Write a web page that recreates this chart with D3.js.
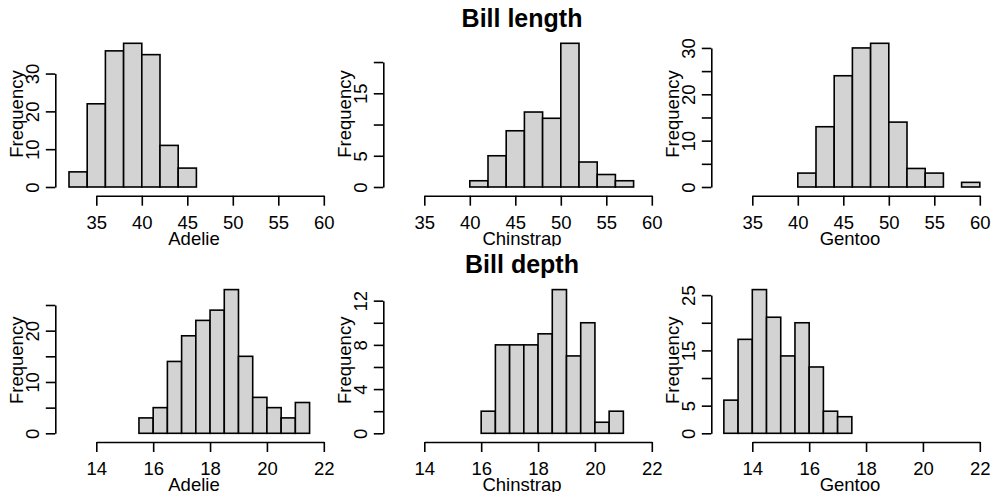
<!DOCTYPE html>
<html>
<head>
<meta charset="utf-8">
<script src="https://cdn.jsdelivr.net/npm/d3@7"></script>
<style>
  body { margin: 0; background: #fff; }
  svg { display: block; font-family: "Liberation Sans", Arial, Helvetica, sans-serif; }
</style>
</head>
<body>
<svg id="chart" width="992" height="492"></svg>
<script>
// penguin histograms, counts
const species = ["Adelie", "Chinstrap", "Gentoo"];
const rowTitles = ["Bill length", "Bill depth"];

// bill length, bins of 2 mm
const adelieLengthBreaks = [32, 34, 36, 38, 40, 42, 44, 46];
const adelieLength = [4, 22, 36, 38, 35, 11, 5];
const chinstrapLengthBreaks = [40, 42, 44, 46, 48, 50, 52, 54, 56, 58];
const chinstrapLength = [1, 5, 9, 12, 11, 23, 4, 2, 1];
const gentooLengthBreaks = [40, 42, 44, 46, 48, 50, 52, 54, 56, 58, 60];
const gentooLength = [3, 13, 24, 30, 31, 14, 4, 3, 0, 1];

// bill depth, bins of 0.5 mm
const adelieDepthBreaks = [15.5, 16, 16.5, 17, 17.5, 18, 18.5, 19, 19.5, 20, 20.5, 21, 21.5];
const adelieDepth = [3, 5, 14, 19, 22, 24, 28, 15, 7, 5, 3, 6];
const chinstrapDepthBreaks = [16, 16.5, 17, 17.5, 18, 18.5, 19, 19.5, 20, 20.5, 21];
const chinstrapDepth = [2, 8, 8, 8, 9, 13, 7, 10, 1, 2];
const gentooDepthBreaks = [13, 13.5, 14, 14.5, 15, 15.5, 16, 16.5, 17, 17.5];
const gentooDepth = [6, 17, 26, 21, 14, 20, 12, 4, 3];

// axis ticks
const lengthXTicks = [35, 40, 45, 50, 55, 60];
const depthXTicks = [14, 16, 18, 20, 22];
const lengthYTicks = [[0, 10, 20, 30], [0, 5, 10, 15, 20], [0, 5, 10, 15, 20, 25, 30]];
const lengthYLabels = [[0, 10, 20, 30], [0, 5, 15], [0, 10, 20, 30]];
const depthYTicks = [[0, 5, 10, 15, 20, 25], [0, 2, 4, 6, 8, 10, 12], [0, 5, 10, 15, 20, 25]];
const depthYLabels = [[0, 10, 20], [0, 4, 8, 12], [0, 5, 15, 25]];

const rows = [
  { breaks: [adelieLengthBreaks, chinstrapLengthBreaks, gentooLengthBreaks],
    counts: [adelieLength, chinstrapLength, gentooLength],
    xTicks: lengthXTicks, yTicks: lengthYTicks, yLabels: lengthYLabels },
  { breaks: [adelieDepthBreaks, chinstrapDepthBreaks, gentooDepthBreaks],
    counts: [adelieDepth, chinstrapDepth, gentooDepth],
    xTicks: depthXTicks, yTicks: depthYTicks, yLabels: depthYLabels }
];

const colStep = 328, rowStep = 246.3;
const axisX = 55.3          // y axis line
  , xLeft = 96.3, xRight = 323.8   // first / last x tick
  , yZero = 187, yTop = 43.3      // 0 and max count
  , xAxisY = 195.7
  , plotCenter = 194;
const fs = 18.5;

const svg = d3.select("#chart");
svg.append("rect").attr("width", 992).attr("height", 492).attr("fill", "#fff");

// each row's figure region clips its x labels (as R does)
svg.append("defs").append("clipPath")
    .attr("id", "rowclip")
    .append("rect")
    .attr("x", 0).attr("y", 0)
    .attr("width", 992).attr("height", rowStep);

rows.forEach((row, r) => {
  const dy = r * rowStep;

  svg.append("text")
      .attr("x", plotCenter + colStep)
      .attr("y", 27 + dy)
      .attr("text-anchor", "middle")
      .attr("font-weight", "bold")
      .attr("font-size", 25)
      .text(rowTitles[r]);

  species.forEach((sp, c) => {
    const breaks = row.breaks[c], counts = row.counts[c];
    const g = svg.append("g")
        .attr("transform", "translate(" + (c * colStep) + "," + dy + ")");

    const xTicks = row.xTicks;
    const xScale = d3.scaleLinear()
        .domain([xTicks[0], xTicks[xTicks.length - 1]])
        .range([xLeft, xRight]);
    const yScale = d3.scaleLinear()
        .domain([0, d3.max(counts)])
        .range([yZero, yTop]);

    const bins = counts.map((n, i) => ({x0: breaks[i], x1: breaks[i + 1], n: n}));

    g.selectAll(".bar")
        .data(bins)
        .enter().append("rect")
        .attr("class", "bar")
        .attr("x", d => xScale(d.x0))
        .attr("width", d => xScale(d.x1) - xScale(d.x0))
        .attr("y", d => yScale(d.n))
        .attr("height", d => yScale(0) - yScale(d.n))
        .attr("fill", "#d3d3d3")
        .attr("stroke", "#000")
        .attr("stroke-width", 1.6);

    // x axis
    const xAxis = g.append("g")
        .attr("transform", "translate(0," + xAxisY + ")")
        .call(d3.axisBottom(xScale).tickValues(xTicks).tickSize(10).tickSizeOuter(0));
    xAxis.selectAll("text")
        .attr("y", 33.3).attr("dy", null)
        .attr("font-size", fs).attr("fill", "#000")
        .attr("font-family", null);

    // y axis, line runs 0 .. top tick
    const yTicks = row.yTicks[c], yLabels = row.yLabels[c];
    const top = yTicks[yTicks.length - 1];
    const yAxisScale = d3.scaleLinear().domain([0, top]).range([yScale(0), yScale(top)]);
    const yAxis = g.append("g")
        .attr("transform", "translate(" + axisX + ",0)")
        .call(d3.axisLeft(yAxisScale).tickValues(yTicks).tickSize(9.5).tickSizeOuter(0)
          .tickFormat(v => yLabels.includes(v) ? v : ""));
    yAxis.selectAll("text")
        .attr("x", null).attr("dy", null)
        .attr("transform", "translate(-16,0) rotate(-90)")
        .attr("text-anchor", "middle")
        .attr("font-size", fs).attr("fill", "#000")
        .attr("font-family", null);

    g.selectAll(".domain, .tick line")
        .attr("stroke", "#000")
        .attr("stroke-width", 1.6);

    // labels
    g.append("text")
        .attr("x", plotCenter)
        .attr("y", xAxisY + 49)
        .attr("text-anchor", "middle")
        .attr("font-size", fs)
        .attr("clip-path", "url(#rowclip)")
        .text(sp);

    g.append("text")
        .attr("transform", "translate(" + (axisX - 32.3) + ",114) rotate(-90)")
        .attr("text-anchor", "middle")
        .attr("font-size", fs)
        .text("Frequency");
  });
});
</script>
</body>
</html>
